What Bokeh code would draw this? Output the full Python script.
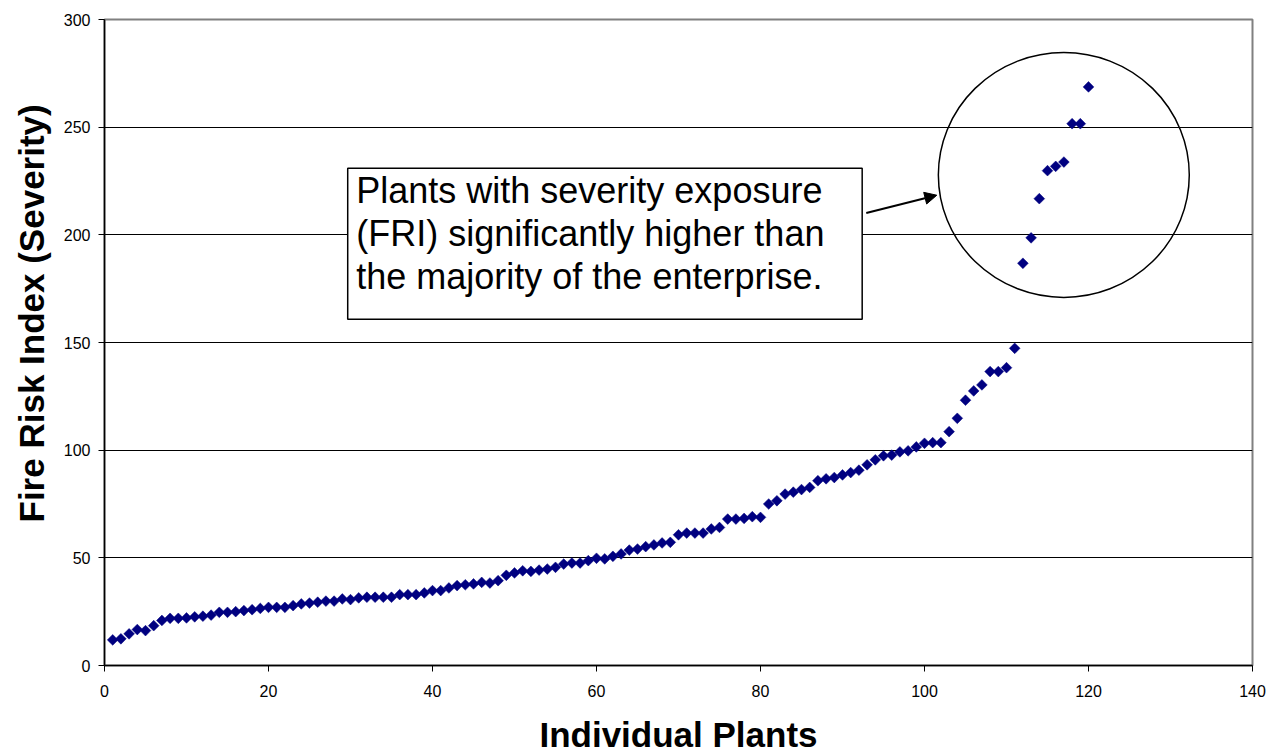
from bokeh.plotting import figure
from bokeh.models import (Range1d, FixedTicker, Label, BoxAnnotation, Arrow,
                          NormalHead, ColumnDataSource, Title)
from bokeh.embed import file_html
from bokeh.resources import INLINE
import math

# ---- data ----
plant_index = list(range(1, 121))
fri_values = [
    11.9, 12.4, 14.7, 16.7, 16.2, 18.5, 20.9, 21.9, 21.9, 22.1,
    22.6, 22.9, 23.4, 24.7, 24.7, 25.0, 25.5, 25.9, 26.5, 27.0,
    27.0, 27.0, 27.8, 28.6, 29.0, 29.4, 29.9, 29.9, 30.9, 30.6,
    31.4, 31.7, 31.7, 31.7, 31.7, 32.9, 32.9, 32.9, 33.7, 34.8,
    34.8, 36.0, 37.1, 37.5, 37.9, 38.6, 38.3, 39.4, 41.9, 43.0,
    44.0, 43.7, 44.3, 44.8, 45.6, 47.1, 47.6, 47.6, 48.7, 49.8,
    49.5, 50.7, 51.8, 53.6, 54.1, 55.2, 56.0, 56.9, 57.2, 60.7,
    61.5, 61.5, 61.5, 63.4, 64.1, 68.0, 68.0, 68.3, 69.1, 68.8,
    75.0, 76.5, 79.6, 80.5, 81.7, 82.7, 85.8, 86.7, 87.3, 88.5,
    89.6, 90.7, 93.2, 95.5, 97.4, 97.7, 99.2, 99.7, 101.5, 103.2,
    103.5, 103.5, 108.6, 114.8, 123.2, 127.5, 130.3, 136.5, 136.5, 138.3,
    147.3, 186.8, 198.6, 216.8, 229.8, 231.8, 233.8, 251.6, 251.6, 268.7,
]
x_ticks = [0, 20, 40, 60, 80, 100, 120, 140]
y_ticks = [0, 50, 100, 150, 200, 250, 300]
note_lines = [
    "Plants with severity exposure",
    "(FRI) significantly higher than",
    "the majority of the enterprise.",
]
x_title = "Individual Plants"
y_title = "Fire Risk Index (Severity)"

FONT = "Liberation Sans"

p = figure(width=1268, height=756, output_backend="svg", toolbar_location=None,
           x_range=Range1d(0, 140), y_range=Range1d(0, 300),
           min_border_left=104, min_border_right=16, min_border_top=19,
           min_border_bottom=91)
p.background_fill_color = "white"
p.border_fill_color = "white"
p.outline_line_color = "#808080"
p.outline_line_width = 2

# grid
p.xgrid.grid_line_color = None
p.ygrid.grid_line_color = "black"
p.ygrid.grid_line_width = 1
p.ygrid.ticker = FixedTicker(ticks=y_ticks)

for ax, ticks in ((p.xaxis[0], x_ticks), (p.yaxis[0], y_ticks)):
    ax.ticker = FixedTicker(ticks=ticks)
    ax.axis_line_color = "black"
    ax.axis_line_width = 1.5
    ax.major_tick_line_color = "black"
    ax.major_tick_in = 0
    ax.major_tick_out = 6
    ax.minor_tick_line_color = None
    ax.major_label_text_font = FONT
    ax.major_label_text_font_size = "16px"
    ax.major_label_text_color = "black"
    ax.axis_label_text_font = FONT
    ax.axis_label_text_font_style = "bold"
    ax.axis_label_text_font_size = "35px"
    ax.axis_label_text_color = "black"

p.xaxis.axis_label = x_title
p.xaxis.major_label_standoff = 13
p.xaxis.axis_label_standoff = 15
p.yaxis.major_label_standoff = 8

# y title as a side title, shifted up like the original
p.add_layout(Title(text=y_title, align="left", offset=143,
                   text_font=FONT, text_font_style="bold",
                   text_font_size="35px", text_color="black",
                   standoff=19), "left")

src = ColumnDataSource(dict(x=plant_index, y=fri_values))
p.scatter("x", "y", source=src, marker="square", angle=math.pi / 4,
          size=7.6, fill_color="#000080", line_color="#000080", line_width=0.5)

# callout box
box = BoxAnnotation(left=29.66, right=92.4, top=230.9, bottom=160.8,
                    fill_color="white", fill_alpha=1.0,
                    line_color="black", line_width=1.5, line_alpha=1.0)
p.add_layout(box)

for line, yb in zip(note_lines, [220.6, 200.6, 180.7]):
    p.add_layout(Label(x=30.7, y=yb, text=line, text_font=FONT,
                       text_font_size="36px", text_color="black",
                       text_baseline="alphabetic", text_align="left"))

# circle highlighting
p.ellipse(x=[116.99], y=[227.8], width=[30.6], height=[113.7],
          fill_color=None, line_color="black", line_width=1.5)

# arrow
p.add_layout(Arrow(x_start=92.9, y_start=210.1, x_end=101.5, y_end=218.4,
                   line_color="black", line_width=2,
                   end=NormalHead(size=12, fill_color="black",
                                  line_color="black")))

open("out.html", "w").write(file_html(p, INLINE))
